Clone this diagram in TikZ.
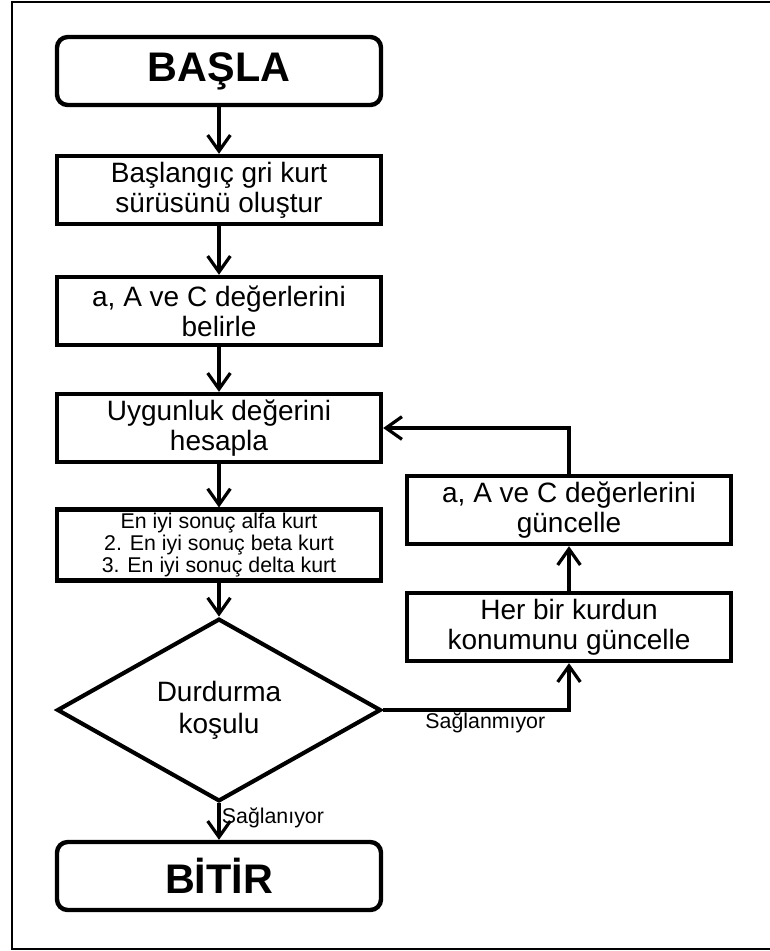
\documentclass[tikz,border=0pt]{standalone}
\usepackage{fontspec}
\setmainfont{Liberation Sans}
\usetikzlibrary{shapes.geometric,arrows.meta}

\begin{document}
\begin{tikzpicture}[x=0.75pt,y=-0.75pt,
    >={Straight Barb[length=12pt,width=17pt]},
    kutu/.style={rectangle,draw,line width=3.3pt,minimum width=243pt,minimum height=51pt,align=center,inner sep=1pt,font=\fontsize{21}{22.5}\selectfont},
    basbit/.style={kutu,rounded corners=8pt,font=\fontsize{31}{36}\selectfont\bfseries},
    karar/.style={diamond,draw,line width=3.1pt,minimum width=243pt,minimum height=122pt,inner sep=0pt,align=center,font=\fontsize{21}{24}\selectfont},
    ok/.style={line width=2.4pt,->},
    etiket/.style={font=\fontsize{16}{18}\selectfont,inner sep=2pt}]
%  \draw[help lines] (0,0) grid[step=50] (769,951);
    \useasboundingbox (0,0) rectangle (769,951);
    \draw[line width=1.6pt] (775,2) -- (12,2) -- (12,949) -- (775,949);
    \path (219,71) node(basla) [basbit] {BAŞLA}
    (219,190) node(olustur) [kutu] {Başlangıç gri kurt\\sürüsünü oluştur}
    (219,311) node(belirle) [kutu] {a, A ve C değerlerini\\belirle}
    (219,428) node(hesapla) [kutu] {Uygunluk değerini\\hesapla}
    (219,545) node(sonuc) [kutu,minimum height=53pt,font=\fontsize{16}{16.8}\selectfont] {En iyi sonuç alfa kurt\\2. En iyi sonuç beta kurt\\3. En iyi sonuç delta kurt}
    (219,710) node(durdur) [karar] {Durdurma\\koşulu}
    (219,876) node(bitir) [basbit] {BİTİR};
    \path (569,510) node(guncelle) [kutu] {a, A ve C değerlerini\\güncelle}
    (569,627) node(konum) [kutu] {Her bir kurdun\\konumunu güncelle};
    \draw[ok] (basla) -- (olustur);
    \draw[ok] (olustur) -- (belirle);
    \draw[ok] (belirle) -- (hesapla);
    \draw[ok] (hesapla) -- (sonuc);
    \draw[ok] (sonuc) -- (durdur);
    \draw[ok] (durdur) -- (bitir);
    \draw[ok] (durdur.east) -| (konum.south);
    \draw[ok] (konum) -- (guncelle);
    \draw[ok] (guncelle.north) |- (hesapla.east);
    \path [ ] (durdur.south) -- (bitir.north) node [etiket,right,pos=0.4] {Sağlanıyor};
    \path [ ] (durdur.east) -- (konum.south |- durdur.east) node [etiket,below,pos=0.55] {Sağlanmıyor};
  \end{tikzpicture}
\end{document}
